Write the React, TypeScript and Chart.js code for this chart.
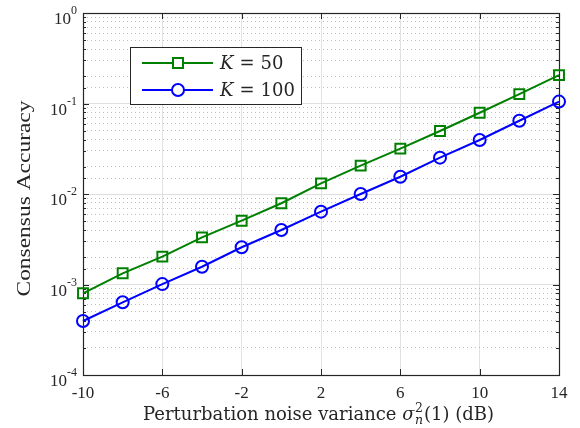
import React, { useEffect, useRef } from 'react';
import { Chart, registerables } from 'chart.js';

Chart.register(...registerables);

const xValues = [-10, -8, -6, -4, -2, 0, 2, 4, 6, 8, 10, 12, 14];
const k50 = [8.0e-4, 1.33e-3, 2.03e-3, 3.32e-3, 5.07e-3, 7.9e-3, 1.31e-2, 2.06e-2, 3.17e-2, 4.97e-2, 7.9e-2, 0.127, 0.206];
const k100 = [3.95e-4, 6.36e-4, 1.01e-3, 1.57e-3, 2.58e-3, 4.0e-3, 6.38e-3, 1.0e-2, 1.55e-2, 2.52e-2, 3.95e-2, 6.45e-2, 0.105];
const xTicks = [-10, -6, -2, 2, 6, 10, 14];
const yDecades = [-4, -3, -2, -1, 0];
const seriesK = ['50', '100'];
const seriesColors = ['#008000', '#0000ff'];
const seriesMarkers = ['rect', 'circle'];

const AXIS = '#262626';
const isDecade = (v: number) => {
  if (!(v > 0)) return false;
  const l = Math.log10(v);
  return Math.abs(l - Math.round(l)) < 1e-6;
};

const decorPlugin = {
  id: 'matlabDecor',
  beforeDatasetsDraw(chart: any) {
    const { ctx, chartArea: a, scales } = chart;
    const xs = scales.x;
    const ys = scales.y;
    ctx.save();
    ctx.strokeStyle = AXIS;
    ctx.lineWidth = 1;
    ctx.beginPath();
    xs.ticks.forEach((t: any) => {
      const p = Math.round(xs.getPixelForValue(t.value)) + 0.5;
      ctx.moveTo(p, a.bottom);
      ctx.lineTo(p, a.bottom - 6);
      ctx.moveTo(p, a.top);
      ctx.lineTo(p, a.top + 6);
    });
    ys.ticks.forEach((t: any) => {
      const len = isDecade(t.value) ? 6 : 3;
      const p = Math.round(ys.getPixelForValue(t.value)) + 0.5;
      ctx.moveTo(a.left, p);
      ctx.lineTo(a.left + len, p);
      ctx.moveTo(a.right, p);
      ctx.lineTo(a.right - len, p);
    });
    ctx.stroke();
    ctx.lineWidth = 1.2;
    ctx.strokeRect(Math.round(a.left) + 0.5, Math.round(a.top) + 0.5, Math.round(a.right - a.left), Math.round(a.bottom - a.top));
    ctx.restore();
  },
  afterDraw(chart: any) {
    const { ctx, chartArea: a, scales } = chart;
    const ys = scales.y;
    ctx.save();
    ctx.fillStyle = AXIS;
    // y tick labels 10^n
    ctx.textAlign = 'left';
    ctx.textBaseline = 'alphabetic';
    yDecades.forEach((d) => {
      const py = ys.getPixelForValue(Math.pow(10, d));
      const sup = String(d);
      ctx.font = '17px "Liberation Serif"';
      const w1 = ctx.measureText('10').width;
      ctx.font = '12px "Liberation Serif"';
      const w2 = ctx.measureText(sup).width;
      const x0 = a.left - 6 - w1 - w2;
      ctx.font = '17px "Liberation Serif"';
      ctx.fillText('10', x0, py + 11);
      ctx.font = '12px "Liberation Serif"';
      ctx.fillText(sup, x0 + w1, py + 1);
    });

    // y title
    ctx.save();
    ctx.translate(30, 198.5);
    ctx.rotate(-Math.PI / 2);
    ctx.font = '19px "Liberation Serif"';
    const yt = 'Consensus Accuracy';
    const ytw = ctx.measureText(yt).width;
    ctx.scale(196 / ytw, 1);
    ctx.textAlign = 'center';
    ctx.textBaseline = 'alphabetic';
    ctx.fillText(yt, 0, 0);
    ctx.restore();

    // x title with math
    const base = 420;
    let cx = 143;
    ctx.textAlign = 'left';
    ctx.font = '18px "DejaVu Serif"';
    const t1 = 'Perturbation noise variance ';
    ctx.fillText(t1, cx, base);
    cx += ctx.measureText(t1).width;
    ctx.font = 'italic 18px "DejaVu Serif"';
    ctx.fillText('\u03c3', cx, base);
    cx += ctx.measureText('\u03c3').width + 0.5;
    ctx.font = '12.5px "DejaVu Serif"';
    ctx.fillText('2', cx, base - 8);
    const w2s = ctx.measureText('2').width;
    ctx.font = 'italic 12.5px "DejaVu Serif"';
    ctx.fillText('n', cx, base + 4);
    const wns = ctx.measureText('n').width;
    cx += Math.max(w2s, wns) + 1;
    ctx.font = '18px "DejaVu Serif"';
    ctx.fillText('(1) (dB)', cx, base);

    // legend
    const lx = 130.5, ly = 47.5, lw = 171, lh = 57;
    ctx.fillStyle = '#ffffff';
    ctx.fillRect(lx, ly, lw, lh);
    ctx.strokeStyle = AXIS;
    ctx.lineWidth = 1;
    ctx.strokeRect(lx, ly, lw, lh);
    seriesK.forEach((k, i) => {
      const ry = 63 + i * 27;
      const col = seriesColors[i];
      ctx.strokeStyle = col;
      ctx.lineWidth = 2;
      ctx.beginPath();
      ctx.moveTo(142, ry);
      ctx.lineTo(213, ry);
      ctx.stroke();
      ctx.beginPath();
      if (seriesMarkers[i] === 'rect') {
        ctx.rect(178 - 5, ry - 5, 10, 10);
      } else {
        ctx.arc(178, ry, 6, 0, Math.PI * 2);
      }
      ctx.fillStyle = '#ffffff';
      ctx.fill();
      ctx.stroke();
      ctx.fillStyle = AXIS;
      let tx = 220;
      const tb = ry + 6;
      ctx.font = 'italic 18px "DejaVu Serif"';
      ctx.fillText('K', tx, tb);
      tx += ctx.measureText('K').width + 6;
      ctx.font = '18px "DejaVu Serif"';
      ctx.fillText('=', tx, tb);
      tx += ctx.measureText('=').width + 6;
      ctx.fillText(k, tx, tb);
    });
    ctx.restore();
  },
};

export default function App() {
  const ref = useRef<HTMLCanvasElement | null>(null);
  useEffect(() => {
    if (!ref.current) return;
    const mk = (vals: number[], i: number) => ({
      label: 'K = ' + seriesK[i],
      data: xValues.map((x, j) => ({ x, y: vals[j] })),
      borderColor: seriesColors[i],
      backgroundColor: 'transparent',
      borderWidth: 2,
      pointStyle: seriesMarkers[i],
      pointRadius: seriesMarkers[i] === 'rect' ? 7 : 6,
      pointBorderWidth: 2,
      pointBorderColor: seriesColors[i],
      pointBackgroundColor: 'rgba(0,0,0,0)',
      tension: 0,
      clip: false as any,
    });
    const chart = new Chart(ref.current, {
      type: 'line',
      data: { datasets: [mk(k50, 0), mk(k100, 1)] as any },
      plugins: [decorPlugin as any],
      options: {
        animation: false,
        responsive: false,
        maintainAspectRatio: false,
        devicePixelRatio: 1,
        layout: { padding: { left: 0, right: 21, top: 13, bottom: 0 } },
        plugins: { legend: { display: false }, tooltip: { enabled: false } },
        scales: {
          x: {
            type: 'linear',
            min: -10,
            max: 14,
            afterBuildTicks: (s: any) => {
              s.ticks = xTicks.map((v) => ({ value: v }));
            },
            afterFit: (s: any) => {
              s.height = 53;
            },
            grid: { color: '#e2e2e2', lineWidth: 1, drawTicks: false },
            border: { display: false },
            ticks: {
              autoSkip: false,
              maxRotation: 0,
              padding: 8,
              color: AXIS,
              font: { family: 'Liberation Serif', size: 17 },
              callback: (v: any) => String(v),
            },
          },
          y: {
            type: 'logarithmic',
            min: 1e-4,
            max: 1,
            afterFit: (s: any) => {
              s.width = 83;
            },
            grid: {
              color: (c: any) => (c.tick && isDecade(c.tick.value) ? '#e0e0e0' : '#bdbdbd'),
              lineWidth: 1,
              drawTicks: false,
            },
            border: {
              display: false,
              dash: (c: any) => (c.tick && !isDecade(c.tick.value) ? [1, 3] : []),
            },
            ticks: { display: false, autoSkip: false },
          },
        },
      },
    });
    return () => chart.destroy();
  }, []);
  return (
    <div style={{ position: 'fixed', left: 0, top: 0, width: 580, height: 428, background: '#fff' }}>
      <canvas ref={ref} width={580} height={428} style={{ display: 'block', width: 580, height: 428 }} />
    </div>
  );
}
